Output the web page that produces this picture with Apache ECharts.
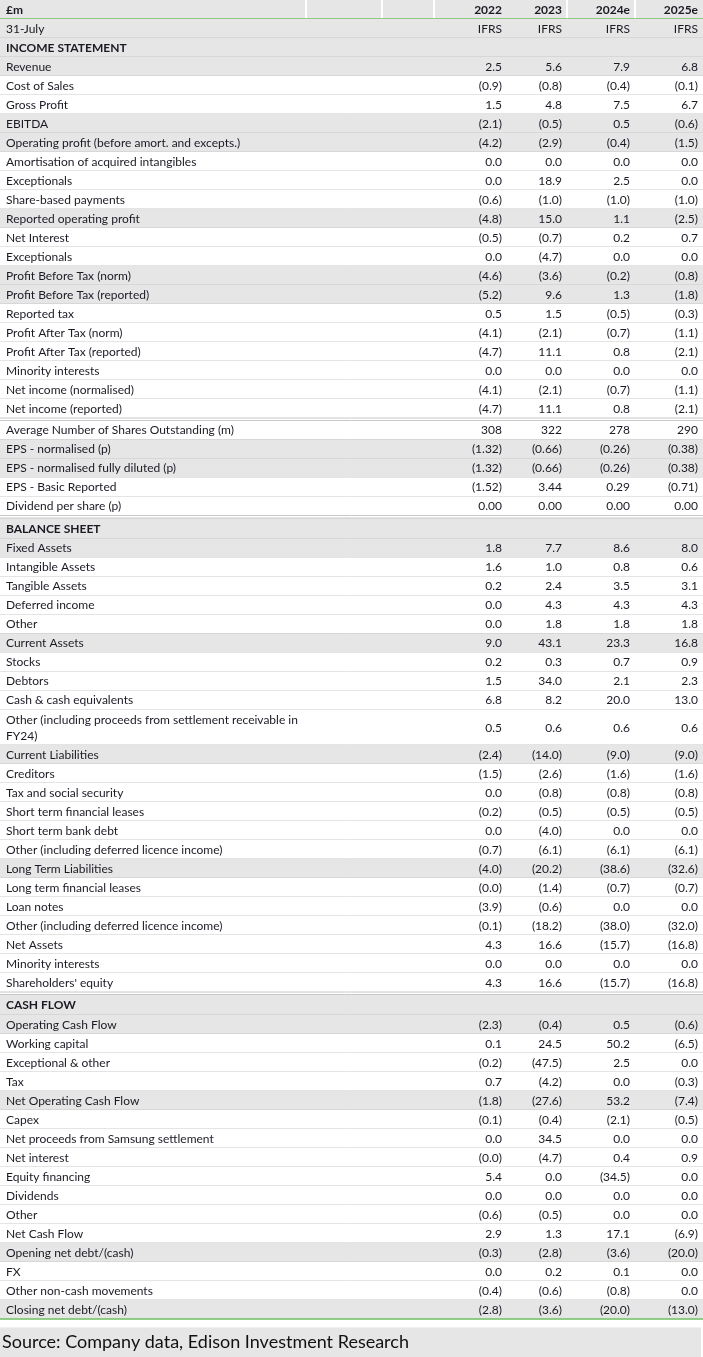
<!DOCTYPE html>
<html>
<head>
<meta charset="utf-8">
<title>Financial summary</title>
<script src="https://cdn.jsdelivr.net/npm/echarts@6/dist/echarts.min.js"></script>
<style>
  html, body { margin: 0; padding: 0; background: #fff; }
  #chart { width: 703px; height: 1357px; }
</style>
</head>
<body>
<div id="chart"></div>
<script>
const unitLabel = '£m';
const yearEndLabel = '31-July';
const years = ['2022', '2023', '2024e', '2025e'];
const basis = ['IFRS', 'IFRS', 'IFRS', 'IFRS'];

const labels = [
  'INCOME STATEMENT',
  'Revenue', 'Cost of Sales', 'Gross Profit', 'EBITDA',
  'Operating profit (before amort. and excepts.)',
  'Amortisation of acquired intangibles', 'Exceptionals', 'Share-based payments',
  'Reported operating profit', 'Net Interest', 'Exceptionals',
  'Profit Before Tax (norm)', 'Profit Before Tax (reported)', 'Reported tax',
  'Profit After Tax (norm)', 'Profit After Tax (reported)', 'Minority interests',
  'Net income (normalised)', 'Net income (reported)',
  'Average Number of Shares Outstanding (m)', 'EPS - normalised (p)',
  'EPS - normalised fully diluted (p)', 'EPS - Basic Reported', 'Dividend per share (p)',
  'BALANCE SHEET',
  'Fixed Assets', 'Intangible Assets', 'Tangible Assets', 'Deferred income', 'Other',
  'Current Assets', 'Stocks', 'Debtors', 'Cash & cash equivalents',
  'Other (including proceeds from settlement receivable in\nFY24)',
  'Current Liabilities', 'Creditors', 'Tax and social security',
  'Short term financial leases', 'Short term bank debt',
  'Other (including deferred licence income)',
  'Long Term Liabilities', 'Long term financial leases', 'Loan notes',
  'Other (including deferred licence income)',
  'Net Assets', 'Minority interests', "Shareholders' equity",
  'CASH FLOW',
  'Operating Cash Flow', 'Working capital', 'Exceptional & other', 'Tax',
  'Net Operating Cash Flow', 'Capex', 'Net proceeds from Samsung settlement',
  'Net interest', 'Equity financing', 'Dividends', 'Other', 'Net Cash Flow',
  'Opening net debt/(cash)', 'FX', 'Other non-cash movements', 'Closing net debt/(cash)'
];

const v2022 = [
  '',
  '2.5', '(0.9)', '1.5', '(2.1)', '(4.2)', '0.0', '0.0', '(0.6)', '(4.8)', '(0.5)', '0.0',
  '(4.6)', '(5.2)', '0.5', '(4.1)', '(4.7)', '0.0', '(4.1)', '(4.7)',
  '308', '(1.32)', '(1.32)', '(1.52)', '0.00',
  '',
  '1.8', '1.6', '0.2', '0.0', '0.0', '9.0', '0.2', '1.5', '6.8', '0.5',
  '(2.4)', '(1.5)', '0.0', '(0.2)', '0.0', '(0.7)',
  '(4.0)', '(0.0)', '(3.9)', '(0.1)', '4.3', '0.0', '4.3',
  '',
  '(2.3)', '0.1', '(0.2)', '0.7', '(1.8)', '(0.1)', '0.0', '(0.0)', '5.4', '0.0', '(0.6)',
  '2.9', '(0.3)', '0.0', '(0.4)', '(2.8)'
];

const v2023 = [
  '',
  '5.6', '(0.8)', '4.8', '(0.5)', '(2.9)', '0.0', '18.9', '(1.0)', '15.0', '(0.7)', '(4.7)',
  '(3.6)', '9.6', '1.5', '(2.1)', '11.1', '0.0', '(2.1)', '11.1',
  '322', '(0.66)', '(0.66)', '3.44', '0.00',
  '',
  '7.7', '1.0', '2.4', '4.3', '1.8', '43.1', '0.3', '34.0', '8.2', '0.6',
  '(14.0)', '(2.6)', '(0.8)', '(0.5)', '(4.0)', '(6.1)',
  '(20.2)', '(1.4)', '(0.6)', '(18.2)', '16.6', '0.0', '16.6',
  '',
  '(0.4)', '24.5', '(47.5)', '(4.2)', '(27.6)', '(0.4)', '34.5', '(4.7)', '0.0', '0.0', '(0.5)',
  '1.3', '(2.8)', '0.2', '(0.6)', '(3.6)'
];

const v2024e = [
  '',
  '7.9', '(0.4)', '7.5', '0.5', '(0.4)', '0.0', '2.5', '(1.0)', '1.1', '0.2', '0.0',
  '(0.2)', '1.3', '(0.5)', '(0.7)', '0.8', '0.0', '(0.7)', '0.8',
  '278', '(0.26)', '(0.26)', '0.29', '0.00',
  '',
  '8.6', '0.8', '3.5', '4.3', '1.8', '23.3', '0.7', '2.1', '20.0', '0.6',
  '(9.0)', '(1.6)', '(0.8)', '(0.5)', '0.0', '(6.1)',
  '(38.6)', '(0.7)', '0.0', '(38.0)', '(15.7)', '0.0', '(15.7)',
  '',
  '0.5', '50.2', '2.5', '0.0', '53.2', '(2.1)', '0.0', '0.4', '(34.5)', '0.0', '0.0',
  '17.1', '(3.6)', '0.1', '(0.8)', '(20.0)'
];

const v2025e = [
  '',
  '6.8', '(0.1)', '6.7', '(0.6)', '(1.5)', '0.0', '0.0', '(1.0)', '(2.5)', '0.7', '0.0',
  '(0.8)', '(1.8)', '(0.3)', '(1.1)', '(2.1)', '0.0', '(1.1)', '(2.1)',
  '290', '(0.38)', '(0.38)', '(0.71)', '0.00',
  '',
  '8.0', '0.6', '3.1', '4.3', '1.8', '16.8', '0.9', '2.3', '13.0', '0.6',
  '(9.0)', '(1.6)', '(0.8)', '(0.5)', '0.0', '(6.1)',
  '(32.6)', '(0.7)', '0.0', '(32.0)', '(16.8)', '0.0', '(16.8)',
  '',
  '(0.6)', '(6.5)', '0.0', '(0.3)', '(7.4)', '(0.5)', '0.0', '0.9', '0.0', '0.0', '0.0',
  '(6.9)', '(20.0)', '0.0', '0.0', '(13.0)'
];

const sourceNote = 'Source: Company data, Edison Investment Research';

// ---- presentation ----
const sectionRows = new Set(['INCOME STATEMENT', 'BALANCE SHEET', 'CASH FLOW']);
const shadedRows = new Set([
  'INCOME STATEMENT', 'Revenue', 'EBITDA', 'Operating profit (before amort. and excepts.)',
  'Reported operating profit', 'Profit Before Tax (norm)', 'Profit Before Tax (reported)',
  'EPS - normalised (p)', 'EPS - normalised fully diluted (p)',
  'BALANCE SHEET', 'Fixed Assets', 'Current Assets', 'Current Liabilities', 'Long Term Liabilities',
  'CASH FLOW', 'Operating Cash Flow', 'Net Operating Cash Flow',
  'Opening net debt/(cash)', 'Closing net debt/(cash)'
]);
const gapBefore = new Set(['Average Number of Shares Outstanding (m)', 'BALANCE SHEET', 'CASH FLOW']);

const W = 703;
const ROW_H = 19;
const GAP_H = 2.5;
const headerH = 19;
const valueColumns = [v2022, v2023, v2024e, v2025e];
const colRight = [502, 562, 630, 698];
const headerDividers = [306, 382, 434, 567, 635];
const FONT = '"Lato", "DejaVu Sans", sans-serif';
const TEXT = '#1a1a24';
const GREY = '#e6e6e6';
const RULE = '#c8c8c8';
const GREEN = '#70bf62';

// row layout (y from the top, in pixels of the value axis)
const rows = [];
let y = headerH * 2;
labels.forEach(function (lab, i) {
  let gap = 0;
  if (gapBefore.has(lab)) { gap = GAP_H; y += GAP_H; }
  let h = ROW_H;
  if (lab.indexOf('\n') >= 0) h = 35.5;
  if (gap && sectionRows.has(lab)) h = 20.5;
  rows.push([i, y, y + h, gap]);
  y += h;
});
const tableBottom = y;

function cellText(x, yc, text, opts) {
  opts = opts || {};
  return {
    type: 'text',
    style: {
      text: text,
      x: x,
      y: yc + 0.5,
      align: opts.align || 'left',
      verticalAlign: 'middle',
      fill: TEXT,
      font: (opts.bold ? 'bold ' : '') + '12px ' + FONT,
      lineHeight: 16
    },
    silent: true
  };
}

function renderHeader(params, api) {
  const which = api.value(0);
  const p0 = api.coord([0, which * headerH]);
  const p1 = api.coord([W, (which + 1) * headerH]);
  const yc = (p0[1] + p1[1]) / 2;
  const children = [{
    type: 'rect',
    shape: { x: p0[0], y: p0[1], width: p1[0] - p0[0], height: p1[1] - p0[1] },
    style: { fill: GREY }
  }];
  if (which === 0) {
    headerDividers.forEach(function (d) {
      const x = api.coord([d, 0])[0];
      children.push({ type: 'line', shape: { x1: x, y1: p0[1], x2: x, y2: p1[1] }, style: { stroke: '#fff', lineWidth: 2 } });
    });
    children.push({ type: 'line', shape: { x1: p0[0], y1: p1[1], x2: p1[0], y2: p1[1] }, style: { stroke: GREEN, lineWidth: 1.5 } });
    children.push(cellText(p0[0] + 6, yc, unitLabel, { bold: true }));
    years.forEach(function (t, c) {
      children.push(cellText(api.coord([colRight[c], 0])[0], yc, t, { align: 'right', bold: true }));
    });
  } else {
    children.push({ type: 'line', shape: { x1: p0[0], y1: p1[1], x2: p1[0], y2: p1[1] }, style: { stroke: RULE, lineWidth: 1 } });
    children.push(cellText(p0[0] + 6, yc, yearEndLabel));
    basis.forEach(function (t, c) {
      children.push(cellText(api.coord([colRight[c], 0])[0], yc, t, { align: 'right' }));
    });
  }
  return { type: 'group', children: children };
}

function renderRow(params, api) {
  const i = api.value(0);
  const lab = labels[i];
  const p0 = api.coord([0, api.value(1)]);
  const p1 = api.coord([W, api.value(2)]);
  const yc = (p0[1] + p1[1]) / 2;
  const children = [{
    type: 'rect',
    shape: { x: p0[0], y: p0[1], width: p1[0] - p0[0], height: p1[1] - p0[1] },
    style: { fill: shadedRows.has(lab) ? GREY : '#fff' }
  }];
  if (api.value(3) > 0) {
    children.push({ type: 'line', shape: { x1: p0[0], y1: p0[1], x2: p1[0], y2: p0[1] }, style: { stroke: RULE, lineWidth: 1 } });
  }
  const last = i === labels.length - 1;
  children.push({
    type: 'line',
    shape: { x1: p0[0], y1: p1[1], x2: p1[0], y2: p1[1] },
    style: { stroke: last ? GREEN : RULE, lineWidth: last ? 1.5 : 1 }
  });
  children.push(cellText(p0[0] + 6, yc, lab, { bold: sectionRows.has(lab) }));
  valueColumns.forEach(function (col, c) {
    if (col[i] !== '') {
      children.push(cellText(api.coord([colRight[c], 0])[0], yc, col[i], { align: 'right' }));
    }
  });
  return { type: 'group', children: children };
}

const chart = echarts.init(document.getElementById('chart'));
chart.setOption({
  animation: false,
  backgroundColor: '#fff',
  grid: { left: 0, right: 0, top: 0, bottom: 0 },
  xAxis: { type: 'value', min: 0, max: W, show: false },
  yAxis: { type: 'value', min: 0, max: 1357, inverse: true, show: false },
  series: [
    {
      type: 'custom',
      renderItem: renderHeader,
      data: [[0], [1]],
      encode: { x: -1, y: -1 }
    },
    {
      type: 'custom',
      renderItem: renderRow,
      data: rows,
      encode: { x: -1, y: -1 }
    }
  ],
  graphic: [
    {
      type: 'rect',
      left: 0,
      top: tableBottom + 8.5,
      shape: { width: 701, height: 1357 - tableBottom - 8.5 },
      style: { fill: GREY },
      silent: true
    },
    {
      type: 'text',
      left: 2,
      top: tableBottom + 14,
      style: { text: sourceNote, font: '18px ' + FONT, fill: '#111' },
      silent: true
    }
  ]
});
</script>
</body>
</html>
